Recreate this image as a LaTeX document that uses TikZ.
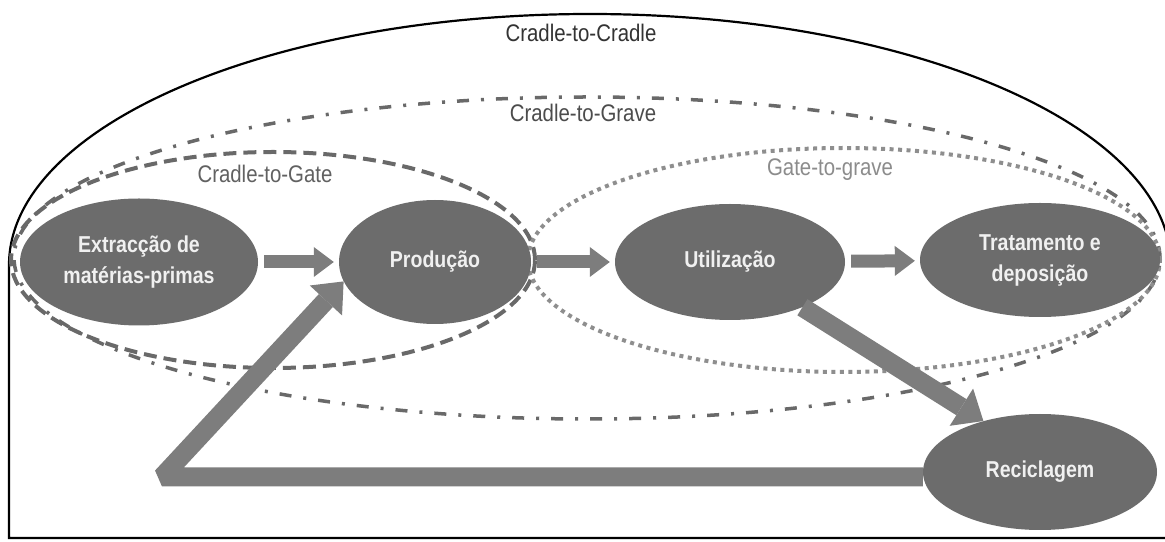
\documentclass[tikz,border=0pt]{standalone}
\usepackage{fontspec}
\setmainfont{Liberation Sans}[FakeStretch=0.85]
\usepackage{tikz}
\usetikzlibrary{positioning,shapes.geometric,arrows.meta,backgrounds}

\begin{document}
\begin{tikzpicture}[x=1pt,y=1pt]
	\definecolor{stagegray}{RGB}{108,108,108}
	\definecolor{stagetext}{RGB}{240,240,240}
	\definecolor{flowgray}{RGB}{125,125,125}
	\definecolor{setgray}{RGB}{105,105,105}
	\tikzset{
		stage/.style={
			ellipse,
			fill=stagegray,
			text=stagetext,
			inner sep=0pt,
			align=center,
			font=\bfseries\fontsize{23}{31}\selectfont
		},
		flow/.style={
			draw=flowgray,
			line width=13pt,
			-{Triangle[length=20pt,width=30pt,line width=0pt]},
			shorten <=6pt,
			shorten >=5pt
		},
		bigflow/.style={
			draw=flowgray,
			line width=19pt,
			line join=bevel,
			-{Triangle[length=26pt,width=44pt,line width=0pt]}
		},
		setname/.style={font=\fontsize{24}{28}\selectfont},
		gatebd/.style={draw=setgray, line width=4pt, dash pattern=on 13pt off 7pt},
		gravebd/.style={draw=setgray, line width=3.5pt, dash pattern=on 12pt off 12pt on 3pt off 12pt},
		usebd/.style={draw=setgray!75, line width=4pt, dash pattern=on 4pt off 4.5pt}
	}
	\useasboundingbox (0,0) rectangle (1165,541);

	% ======= Etapas do ciclo de vida =======
	\node[stage, minimum width=238pt, minimum height=127pt] (extr) at (139,279) {Extracção de\\matérias-primas};
	\node[stage, minimum width=192pt, minimum height=124pt] (prod) at (435,279) {Produção};
	\node[stage, minimum width=230pt, minimum height=116pt] (util) at (730,279) {Utilização};
	\node[stage, minimum width=240pt, minimum height=114pt] (trat) at (1040,281) {Tratamento e\\deposição};
	\node[stage, minimum width=234pt, minimum height=116pt] (reci) at (1040,69) {Reciclagem};

	% ======= Fronteiras (atrás das etapas) =======
	\begin{scope}[on background layer]
		\fill[white] (0,0) rectangle (1165,541);
		\draw[black, line width=2.2pt] (9,3) -- (9,276) arc[start angle=180, end angle=0, x radius=581, y radius=251] -- (1171,3) -- cycle;
		\draw[gravebd] (587,283) ellipse [x radius=573, y radius=161];
		\draw[gatebd] (273,281) ellipse [x radius=262, y radius=108];
		\draw[usebd] (844,281) ellipse [x radius=316, y radius=112];
	\end{scope}

	\node[setname, text=black!80] (c2c) at (581,508) {Cradle-to-Cradle};
	\node[setname, text=black!70] (c2gr) at (583,428) {Cradle-to-Grave};
	\node[setname, text=black!62] (c2ga) at (265,367) {Cradle-to-Gate};
	\node[setname, text=black!45] (g2g) at (830,371) {Gate-to-grave};

	% ======= Fluxos =======
	\draw[flow] (extr) -- (prod);
	\draw[flow] (prod) -- (util);
	\draw[flow] (util) -- (trat);
	\draw[bigflow] (util.328) -- (reci.138);

	\coordinate (bend) at (162,64);
	\draw[bigflow] ([yshift=-5pt]reci.west) -- (bend) -- (prod.192);
\end{tikzpicture}
\end{document}
